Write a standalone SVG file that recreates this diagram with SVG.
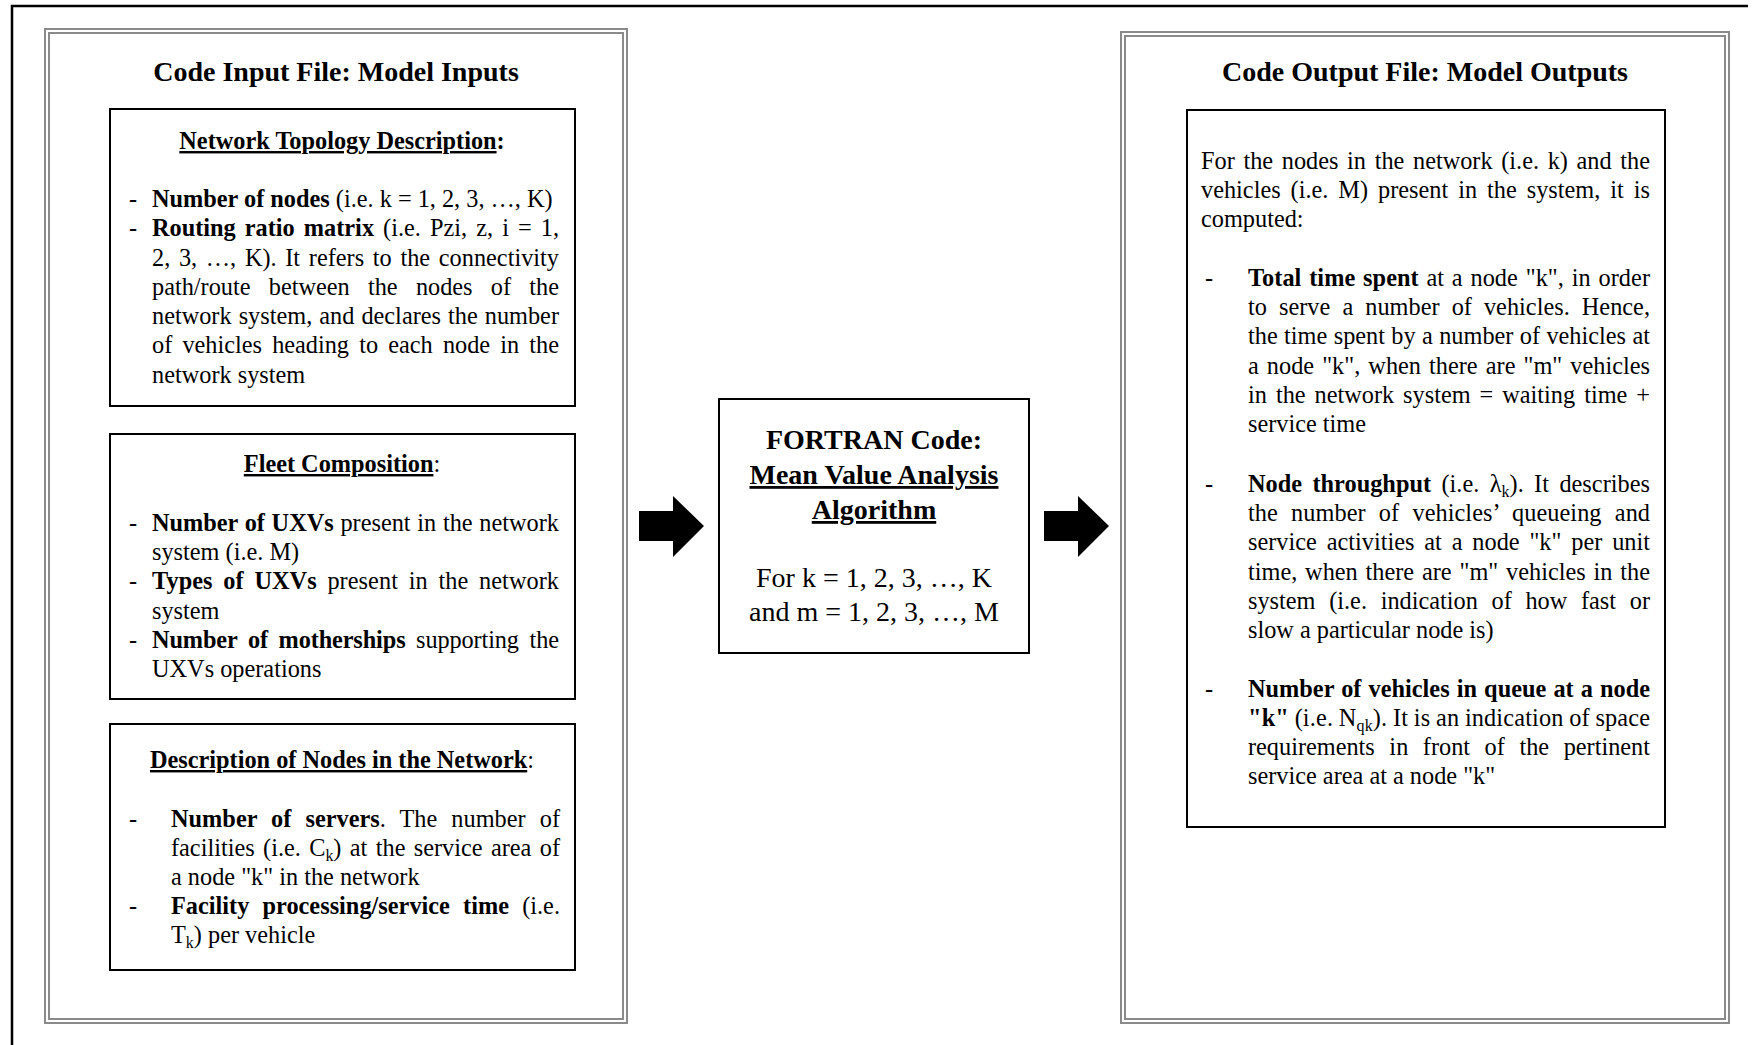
<svg xmlns="http://www.w3.org/2000/svg" width="1757" height="1045" viewBox="0 0 1757 1045">
<style>
text{font-family:"Liberation Serif","Times New Roman",serif;fill:#000}
.t{font-size:24.3px}
.h{font-size:28px;font-weight:bold}
.c{font-size:28px}
.b{font-weight:bold}
.u{text-decoration:underline}
.mid{text-anchor:middle}
.frame{fill:none;stroke:#8a8a8a;stroke-width:2}
.box{fill:#fff;stroke:#000;stroke-width:2}
.sub{font-size:16px}
</style>
<rect width="1757" height="1045" fill="#fff"/>
<path d="M12,1045 V6 H1748" fill="none" stroke="#000" stroke-width="2.5"/>

<g id="inputs">
<rect class="frame" x="45" y="29" width="582" height="994"/>
<rect class="frame" x="49" y="33" width="574" height="986"/>
<text class="h mid" x="336" y="81">Code Input File: Model Inputs</text>
</g>

<g id="topology">
<rect class="box" x="110" y="109" width="465" height="297"/>
<text class="t mid" x="342" y="149"><tspan class="b u">Network Topology Description</tspan><tspan class="b">:</tspan></text>
<text class="t" x="129" y="207">-</text>
<text class="t" x="152" y="207"><tspan class="b">Number of nodes</tspan> (i.e. k = 1, 2, 3, …, K)</text>
<text class="t" x="129" y="236">-</text>
<text class="t" x="152" y="236" word-spacing="3" textLength="407" lengthAdjust="spacing"><tspan class="b">Routing ratio matrix</tspan> (i.e. Pzi, z, i = 1,</text>
<text class="t" x="152" y="266" word-spacing="2.6" textLength="407" lengthAdjust="spacing">2, 3, …, K). It refers to the connectivity</text>
<text class="t" x="152" y="295" word-spacing="12.2" textLength="407" lengthAdjust="spacing">path/route between the nodes of the</text>
<text class="t" x="152" y="324" word-spacing="1" textLength="407" lengthAdjust="spacing">network system, and declares the number</text>
<text class="t" x="152" y="353" word-spacing="4.1" textLength="407" lengthAdjust="spacing">of vehicles heading to each node in the</text>
<text class="t" x="152" y="383">network system</text>
</g>

<g id="fleet">
<rect class="box" x="110" y="434" width="465" height="265"/>
<text class="t mid" x="342" y="472"><tspan class="b u">Fleet Composition</tspan>:</text>
<text class="t" x="129" y="531">-</text>
<text class="t" x="152" y="531" word-spacing="0.6" textLength="407" lengthAdjust="spacing"><tspan class="b">Number of UXVs</tspan> present in the network</text>
<text class="t" x="152" y="560">system (i.e. M)</text>
<text class="t" x="129" y="589">-</text>
<text class="t" x="152" y="589" word-spacing="4.6" textLength="407" lengthAdjust="spacing"><tspan class="b">Types of UXVs</tspan> present in the network</text>
<text class="t" x="152" y="619">system</text>
<text class="t" x="129" y="648">-</text>
<text class="t" x="152" y="648" word-spacing="4.7" textLength="407" lengthAdjust="spacing"><tspan class="b">Number of motherships</tspan> supporting the</text>
<text class="t" x="152" y="677">UXVs operations</text>
</g>

<g id="nodes">
<rect class="box" x="110" y="724" width="465" height="246"/>
<text class="t mid" x="342" y="768"><tspan class="b u">Description of Nodes in the Network</tspan>:</text>
<text class="t" x="129" y="827">-</text>
<text class="t" x="171" y="827" word-spacing="7.9" textLength="389" lengthAdjust="spacing"><tspan class="b">Number of servers</tspan>. The number of</text>
<text class="t" x="171" y="856" word-spacing="2.3" textLength="389" lengthAdjust="spacing">facilities (i.e. C<tspan class="sub" dy="5">k</tspan><tspan dy="-5">) at the service area of</tspan></text>
<text class="t" x="171" y="885">a node "k" in the network</text>
<text class="t" x="129" y="914">-</text>
<text class="t" x="171" y="914" word-spacing="7.1" textLength="389" lengthAdjust="spacing"><tspan class="b">Facility processing/service time</tspan> (i.e.</text>
<text class="t" x="171" y="943">T<tspan class="sub" dy="5">k</tspan><tspan dy="-5">) per vehicle</tspan></text>
</g>

<g id="fortran">
<rect class="box" x="719" y="399" width="310" height="254"/>
<text class="h mid" x="874" y="449">FORTRAN Code:</text>
<text class="h u mid" x="874" y="484">Mean Value Analysis</text>
<text class="h u mid" x="874" y="519">Algorithm</text>
<text class="c mid" x="874" y="587">For k = 1, 2, 3, …, K</text>
<text class="c mid" x="874" y="621">and m = 1, 2, 3, …, M</text>
</g>

<g id="outputs">
<rect class="frame" x="1121" y="32" width="608" height="991"/>
<rect class="frame" x="1125" y="36" width="600" height="983"/>
<text class="h mid" x="1425" y="81">Code Output File: Model Outputs</text>
</g>

<g id="results">
<rect class="box" x="1187" y="110" width="478" height="717"/>
<text class="t" x="1201" y="169" word-spacing="2.6" textLength="449" lengthAdjust="spacing">For the nodes in the network (i.e. k) and the</text>
<text class="t" x="1201" y="198" word-spacing="3.9" textLength="449" lengthAdjust="spacing">vehicles (i.e. M) present in the system, it is</text>
<text class="t" x="1201" y="227">computed:</text>

<text class="t" x="1205" y="286">-</text>
<text class="t" x="1248" y="286" word-spacing="1.6" textLength="402" lengthAdjust="spacing"><tspan class="b">Total time spent</tspan> at a node "k", in order</text>
<text class="t" x="1248" y="315" word-spacing="6" textLength="402" lengthAdjust="spacing">to serve a number of vehicles. Hence,</text>
<text class="t" x="1248" y="344" word-spacing="0.3" textLength="402" lengthAdjust="spacing">the time spent by a number of vehicles at</text>
<text class="t" x="1248" y="374" word-spacing="2" textLength="402" lengthAdjust="spacing">a node "k", when there are "m" vehicles</text>
<text class="t" x="1248" y="403" word-spacing="2.9" textLength="402" lengthAdjust="spacing">in the network system = waiting time +</text>
<text class="t" x="1248" y="432">service time</text>

<text class="t" x="1205" y="492">-</text>
<text class="t" x="1248" y="492" word-spacing="4.3" textLength="402" lengthAdjust="spacing"><tspan class="b">Node throughput</tspan> (i.e. λ<tspan class="sub" dy="5">k</tspan><tspan dy="-5">). It describes</tspan></text>
<text class="t" x="1248" y="521" word-spacing="7.1" textLength="402" lengthAdjust="spacing">the number of vehicles’ queueing and</text>
<text class="t" x="1248" y="550" word-spacing="3.8" textLength="402" lengthAdjust="spacing">service activities at a node "k" per unit</text>
<text class="t" x="1248" y="580" word-spacing="1.8" textLength="402" lengthAdjust="spacing">time, when there are "m" vehicles in the</text>
<text class="t" x="1248" y="609" word-spacing="7.6" textLength="402" lengthAdjust="spacing">system (i.e. indication of how fast or</text>
<text class="t" x="1248" y="638">slow a particular node is)</text>

<text class="t" x="1205" y="697">-</text>
<text class="t b" x="1248" y="697" word-spacing="1" textLength="402" lengthAdjust="spacing">Number of vehicles in queue at a node</text>
<text class="t" x="1248" y="726" word-spacing="-0.5" textLength="402" lengthAdjust="spacing"><tspan class="b">"k"</tspan> (i.e. N<tspan class="sub" dy="5">qk</tspan><tspan dy="-5">). It is an indication of space</tspan></text>
<text class="t" x="1248" y="755" word-spacing="8.5" textLength="402" lengthAdjust="spacing">requirements in front of the pertinent</text>
<text class="t" x="1248" y="784">service area at a node "k"</text>
</g>

<g id="connectors">
<polygon points="639,511 673,511 673,496 704,526 673,557 673,541 639,541" fill="#000"/>
<polygon points="1044,511 1078,511 1078,496 1109,526 1078,557 1078,541 1044,541" fill="#000"/>
</g>
</svg>
